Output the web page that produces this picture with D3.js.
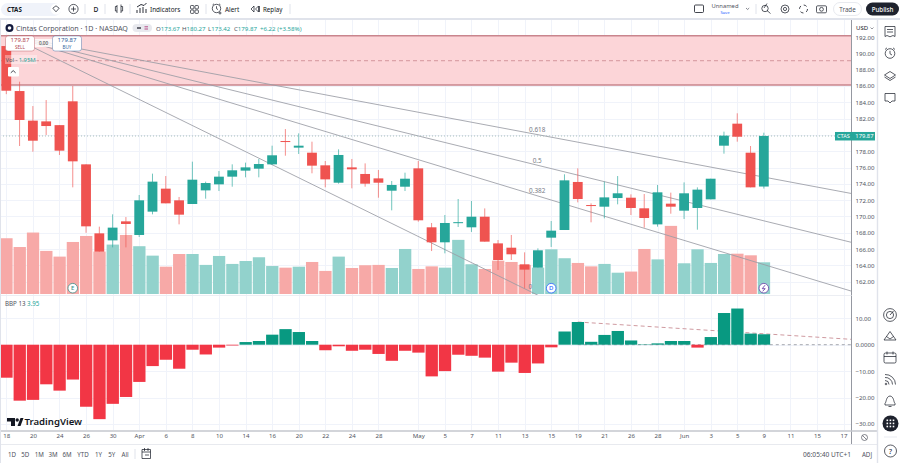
<!DOCTYPE html>
<html>
<head>
<meta charset="utf-8">
<script src="https://cdn.jsdelivr.net/npm/d3@7/dist/d3.min.js"></script>
<style>
html,body{margin:0;padding:0;background:#fff;overflow:hidden}
svg{display:block}
text{font-family:"Noto Sans",Roboto,sans-serif}
</style>
</head>
<body>
<svg id="chart" width="900" height="463"></svg>
<script>
// Daily candles for CTAS
const opens = [190.9,185.38,181.75,181.66,181.2,184.12,176.39,167.93,167.07,169.4,167.73,170.59,173.41,171.98,171.53,173.2,173.94,174.88,175.62,175.86,176.39,179.25,178.44,177.82,176.27,174.14,176.02,175.21,174.67,173.16,173.65,175.9,168.67,166.83,169.24,168.67,169.97,166.7,166.17,164.13,163.72,167.4,168.34,174.23,171.4,171.2,172.26,172.3,171.0,169.03,171.57,170.71,171.04,172.1,178.68,181.38,177.82,173.67];
const highs = [191.0,186.53,183.54,184.28,181.2,186.0,176.39,168.75,170.26,169.93,172.63,175.25,174.96,172.39,176.72,174.27,175.57,176.39,176.6,177.05,178.68,180.72,180.19,179.17,176.8,178.23,177.05,176.51,175.7,174.35,175.37,176.8,169.2,170.18,172.14,171.9,170.99,167.11,167.73,165.6,166.09,169.44,175.17,175.9,171.61,174.27,174.96,172.71,172.75,173.86,172.92,174.18,173.57,174.63,180.4,182.65,178.64,180.27];
const lows = [185.0,178.64,177.94,179.99,177.54,173.57,168.0,165.68,166.21,166.21,167.48,170.26,171.61,169.03,171.53,172.18,173.12,173.65,174.8,174.8,176.3,177.45,177.66,175.29,173.57,174.02,173.45,173.65,172.3,170.75,173.12,169.36,165.76,165.48,168.71,168.1,166.91,163.44,164.66,161.19,163.72,166.26,168.34,171.73,169.28,169.77,171.49,170.18,168.63,168.75,170.34,169.69,168.38,172.1,177.7,179.17,173.57,173.42];
const closes = [185.42,181.83,179.29,181.09,178.07,176.76,168.79,165.68,168.63,169.08,171.98,174.27,171.61,170.22,174.51,174.1,174.88,175.66,176.02,176.43,177.5,179.13,178.68,176.23,174.55,177.54,175.78,174.02,174.14,173.86,174.63,169.53,166.83,169.2,169.3,169.97,166.91,164.66,165.36,163.48,165.85,168.26,174.43,172.14,171.3,172.34,172.84,171.04,169.81,172.96,171.2,172.84,173.29,174.63,179.91,179.78,173.57,179.87];
// Volume in millions
const volumes = [3.43,2.89,3.78,2.65,2.30,3.20,3.57,2.61,3.04,3.63,2.94,2.36,1.68,2.46,2.46,1.79,2.34,1.85,2.03,2.26,1.72,1.62,1.68,1.97,1.42,2.30,1.60,1.77,1.79,1.60,2.77,1.54,1.70,1.62,3.33,1.83,1.54,2.05,1.97,1.79,1.62,2.75,2.20,1.91,1.70,1.85,1.31,1.38,2.77,2.13,4.19,1.89,2.75,1.91,2.46,2.48,2.38,1.95];
// Bull Bear Power (13)
const bbp = [-12.5,-21.2,-20.9,-15.0,-17.4,-13.2,-23.5,-28.2,-22.4,-19.8,-14.1,-8.1,-5.7,-9.1,-1.9,-3.7,-1.1,-0.3,1.0,1.4,3.8,5.9,4.8,1.4,-2.1,-0.6,-2.3,-1.9,-3.5,-6.1,-2.3,-3.0,-12.0,-10.0,-3.8,-4.2,-4.9,-10.2,-6.8,-10.7,-7.1,-1.0,5.0,8.6,1.1,3.7,5.2,1.6,0.15,0.5,1.4,1.4,-1.1,2.9,12.0,13.7,4.2,3.95];
// Time axis labels and the session slot each one sits on
const timeLabels = ["18","20","24","26","30","Apr","6","8","10","14","16","20","22","24","28","May","5","7","11","13","15","19","21","26","28","Jun","3","5","9","11","15","17"];
const timeSlots = [0,2,4,6,8,10,12,14,16,18,20,22,24,26,28,31,33,35,37,39,41,43,45,47,49,51,53,55,57,59,61,63];
const priceTicks = [192,190,188,186,184,182,180,178,176,174,172,170,168,166,164,162];
const bbpTicks = [10,0,-10,-20,-30];
const fanLevels = [0,0.382,0.5,0.618];
const rangeButtons = ["1D","5D","1M","3M","6M","YTD","1Y","5Y","All"];

const GREEN="#26a69a", RED="#ef5350", BBP_GREEN="#089981", BBP_RED="#f23645";
const INK="#131722", MUTED="#50535e", GRID="#f0f3fa";

const svg=d3.select("#chart");
const paneRight=851.5;

const x=d3.scaleLinear().domain([0,57]).range([6.3,6.3+57*13.29]);
const yPrice=d3.scaleLinear().domain([184,162]).range([102.3,281.7]);
const yVol=d3.scaleLinear().domain([0,1.95]).range([294,262.3]);
const yBbp=d3.scaleLinear().domain([0,-10]).range([344.7,371.1]);

const defs=svg.append("defs");
defs.append("clipPath").attr("id","mainClip").append("rect").attr("x",0).attr("y",20).attr("width",paneRight).attr("height",275);
defs.append("clipPath").attr("id","bbpClip").append("rect").attr("x",0).attr("y",297).attr("width",paneRight).attr("height",133);

// Grid
const grid=svg.append("g").attr("stroke",GRID).attr("stroke-width",1);
grid.selectAll("line.v").data(timeSlots).join("line").attr("class","v")
  .attr("x1",d=>Math.round(x(d))+.5).attr("x2",d=>Math.round(x(d))+.5).attr("y1",20).attr("y2",430);
grid.selectAll("line.h").data(priceTicks).join("line").attr("class","h")
  .attr("x1",0).attr("x2",paneRight).attr("y1",d=>Math.round(yPrice(d))+.5).attr("y2",d=>Math.round(yPrice(d))+.5);
grid.selectAll("line.b").data(bbpTicks).join("line").attr("class","b")
  .attr("x1",0).attr("x2",paneRight).attr("y1",d=>Math.round(yBbp(d))+.5).attr("y2",d=>Math.round(yBbp(d))+.5);

const main=svg.append("g").attr("clip-path","url(#mainClip)");

// Resistance zone
const zoneTop=192.17, zoneBottom=186.12, zoneMid=189.1;
main.append("rect").attr("x",0).attr("width",paneRight).attr("y",yPrice(zoneTop)).attr("height",yPrice(zoneBottom)-yPrice(zoneTop)).attr("fill","#fcd5d8");
main.selectAll("line.zone").data([zoneTop,zoneBottom]).join("line").attr("class","zone")
  .attr("x1",0).attr("x2",paneRight).attr("y1",d=>yPrice(d)).attr("y2",d=>yPrice(d)).attr("stroke","#c9858d").attr("stroke-width",1.6);
main.append("line").attr("x1",0).attr("x2",paneRight).attr("y1",yPrice(zoneMid)).attr("y2",yPrice(zoneMid))
  .attr("stroke","#c9858d").attr("stroke-width",.8).attr("stroke-dasharray","4 3");

// Volume
main.selectAll("rect.vol").data(volumes).join("rect").attr("class","vol")
  .attr("x",(d,i)=>x(i)-6).attr("width",12.3)
  .attr("y",d=>yVol(d)).attr("height",d=>yVol(0)-yVol(d))
  .attr("fill",(d,i)=>closes[i]>=opens[i]?"#92d2cc":"#f7a9a7");

// Fibonacci fan
const fanOrigin={i:0.2,p:192.2}, fanEnd={i:39.8,p:160.5}, fanFarIdx=80;
const fanLine=d3.line().x(d=>x(d.i)).y(d=>yPrice(d.p));
fanLevels.forEach(r=>{
  const endP=fanEnd.p+(fanOrigin.p-fanEnd.p)*r;
  const k=(endP-fanOrigin.p)/(fanEnd.i-fanOrigin.i);
  main.append("path").attr("fill","none").attr("stroke","#9a9ca4").attr("stroke-width",.85)
    .attr("d",fanLine([fanOrigin,{i:fanFarIdx,p:fanOrigin.p+k*(fanFarIdx-fanOrigin.i)}]));
  main.append("text").attr("x",x(fanEnd.i)+(r?2:-5)).attr("y",yPrice(endP)-(r?2:5)).attr("font-size",6.4)
    .attr("fill","#787b86").attr("text-anchor","middle").text(r);
});

// Last price line
main.append("line").attr("x1",0).attr("x2",paneRight).attr("y1",yPrice(closes[57])).attr("y2",yPrice(closes[57]))
  .attr("stroke","#a9bfbc").attr("stroke-width",1).attr("stroke-dasharray","1 2");

// Candles
const color=i=>closes[i]>=opens[i]?GREEN:RED;
const idx=d3.range(opens.length);
main.selectAll("line.wick").data(idx).join("line").attr("class","wick")
  .attr("x1",i=>x(i)).attr("x2",i=>x(i)).attr("y1",i=>yPrice(highs[i])).attr("y2",i=>yPrice(lows[i]))
  .attr("stroke",color).attr("stroke-opacity",.65).attr("stroke-width",1);
main.selectAll("rect.body").data(idx).join("rect").attr("class","body")
  .attr("x",i=>x(i)-4.9).attr("width",9.8)
  .attr("y",i=>yPrice(Math.max(opens[i],closes[i])))
  .attr("height",i=>Math.max(1,Math.abs(yPrice(opens[i])-yPrice(closes[i]))))
  .attr("fill",color);

// BBP pane
const bbpG=svg.append("g").attr("clip-path","url(#bbpClip)");
const trendStart={i:43,v:8.6}, trendEnd={i:63.7,v:2};
const trend=d3.line().x(d=>x(d.i)).y(d=>yBbp(d.v));
bbpG.append("path").attr("fill","none").attr("stroke","#cf9aa0").attr("stroke-width",1).attr("stroke-dasharray","4 3").attr("d",trend([trendStart,trendEnd]));
bbpG.append("path").attr("fill","none").attr("stroke","#8e9099").attr("stroke-width",.8).attr("stroke-dasharray","3 3").attr("d",trend([{i:43,v:0},{i:63.7,v:0}]));
bbpG.selectAll("rect.bbp").data(bbp).join("rect").attr("class","bbp")
  .attr("x",(d,i)=>x(i)-6).attr("width",12.3)
  .attr("y",d=>yBbp(Math.max(d,0))).attr("height",d=>Math.abs(yBbp(d)-yBbp(0)))
  .attr("fill",d=>d>=0?BBP_GREEN:BBP_RED);

// Axes
const axisFont=g=>g.call(s=>s.select(".domain").remove()).call(s=>s.selectAll(".tick line").remove())
  .selectAll("text").attr("fill",MUTED).attr("font-size",6.1).attr("font-family",'"Noto Sans",Roboto,sans-serif');
svg.append("g").attr("transform",`translate(${paneRight},0)`)
  .call(d3.axisRight(yPrice).tickValues(priceTicks).tickFormat(d3.format(".2f")).tickSize(0).tickPadding(4)).call(axisFont);
svg.append("g").attr("transform",`translate(${paneRight},0)`)
  .call(d3.axisRight(yBbp).tickValues(bbpTicks).tickFormat(d=>d===0?"0.0000":d3.format(".2f")(d).replace("\u2212","\u2212")).tickSize(0).tickPadding(4)).call(axisFont);
svg.append("g").attr("transform","translate(0,431)")
  .call(d3.axisBottom(x).tickValues(timeSlots).tickFormat((d,i)=>timeLabels[i]).tickSize(0).tickPadding(3)).call(axisFont);

// Frame lines around the panes
const frameLines=[[paneRight,20,paneRight,444,"#9598a1",1],[0,431,877.5,431,"#c4c7ce",1.4],[0,295.5,paneRight,295.5,"#eceef3",1],
 [0,444.5,877.5,444.5,"#e8eaef",1],[877.5,18,877.5,463,"#e0e3eb",1.4],[0,19,900,19,"#e0e3eb",2],[.5,20,.5,463,"#e0e3eb",1]];
svg.append("g").selectAll("line").data(frameLines).join("line")
  .attr("x1",d=>d[0]).attr("y1",d=>d[1]).attr("x2",d=>d[2]).attr("y2",d=>d[3]).attr("stroke",d=>d[4]).attr("stroke-width",d=>d[5]);

// Small text helper
function label(parent,tx,ty,str,size,fill,opts={}){
  return parent.append("text").attr("x",tx).attr("y",ty).attr("font-size",size).attr("fill",fill)
   .attr("text-anchor",opts.anchor||"start").attr("dominant-baseline","central").attr("font-weight",opts.weight||400).text(str);
}

// Last price badge
const badge=svg.append("g");
badge.append("rect").attr("x",835).attr("y",yPrice(closes[57])-4).attr("width",40).attr("height",8.5).attr("fill",GREEN);
label(badge,837,yPrice(closes[57])+.2,"CTAS",5.6,"#fff");
label(badge,873.5,yPrice(closes[57])+.2,d3.format(".2f")(closes[57]),5.8,"#fff",{anchor:"end"});

// Top toolbar
const toolbar=svg.append("g");
toolbar.append("rect").attr("x",1).attr("y",3).attr("width",60).attr("height",13).attr("rx",6.5).attr("fill","#f0f3fa");
toolbar.append("circle").attr("cx",56).attr("cy",9).attr("r",5.5).attr("fill","#fff");
toolbar.append("path").attr("d","M52.8 8.2 L56 5.8 L59.2 8.2 L56 11.8 Z").attr("fill","none").attr("stroke",INK).attr("stroke-width",.7);
label(toolbar,7,9.2,"CTAS",6.2,INK,{weight:700});
toolbar.append("circle").attr("cx",73.5).attr("cy",9).attr("r",4.6).attr("fill","none").attr("stroke",INK).attr("stroke-width",.7);
toolbar.append("path").attr("d","M73.5 6.5V11.5M71 9H76").attr("stroke",INK).attr("stroke-width",.7);
label(toolbar,96,9.2,"D",6.6,INK,{anchor:"middle",weight:500});
toolbar.selectAll("line.sep").data([85,105,130,206,290,756]).join("line").attr("class","sep")
 .attr("x1",d=>d).attr("x2",d=>d).attr("y1",4).attr("y2",14).attr("stroke","#e0e3eb");
toolbar.append("path").attr("d","M117 5V13M117 6.5h-1.6V11H117M121 4.5V13M121 6.5h1.6V11H121").attr("fill","none").attr("stroke",INK).attr("stroke-width",.7);
toolbar.append("path").attr("d","M137 13V10M140 13V8M143 13V7M146 13V9M137 7L141 4.5L144 5.5L146.5 3").attr("fill","none").attr("stroke",INK).attr("stroke-width",.9);
label(toolbar,150,9.2,"Indicators",6.4,INK);
[[190.5,5.5],[195,5.5],[190.5,10],[195,10]].forEach(p=>toolbar.append("rect").attr("x",p[0]).attr("y",p[1]).attr("width",3.4).attr("height",3.4).attr("rx",.8).attr("fill","none").attr("stroke",INK).attr("stroke-width",.7));
toolbar.append("circle").attr("cx",216.5).attr("cy",8.5).attr("r",4.2).attr("fill","none").attr("stroke",INK).attr("stroke-width",.7);
toolbar.append("path").attr("d","M216.5 6.2V8.6L218 9.6M220 11.5V14.5M218.5 13H221.5M212.5 5L214 3.8M220.5 5L219 3.8").attr("fill","none").attr("stroke",INK).attr("stroke-width",.7);
label(toolbar,225,9.2,"Alert",6.4,INK);
toolbar.append("path").attr("d","M254 6L251 9L254 12ZM258.5 6L255.5 9L258.5 12ZM259.5 6V12").attr("fill","none").attr("stroke",INK).attr("stroke-width",.7);
label(toolbar,263,9.2,"Replay",6.2,INK);

toolbar.append("rect").attr("x",694.5).attr("y",5).attr("width",9).attr("height",7.5).attr("rx",1).attr("fill","none").attr("stroke",INK).attr("stroke-width",.8);
label(toolbar,725,5.8,"Unnamed",5.8,MUTED,{anchor:"middle"});
label(toolbar,725,12.4,"Save",4.2,"#2962ff",{anchor:"middle"});
toolbar.append("path").attr("d","M746 8L747.6 9.5L749.2 8").attr("fill","none").attr("stroke",MUTED).attr("stroke-width",.7);
toolbar.append("circle").attr("cx",765).attr("cy",8.5).attr("r",3.2).attr("fill","none").attr("stroke",INK).attr("stroke-width",.7);
toolbar.append("path").attr("d","M767 10.5L770.5 13.5M767 3.5L764 8").attr("fill","none").attr("stroke",INK).attr("stroke-width",.7);
toolbar.append("circle").attr("cx",785).attr("cy",9).attr("r",4).attr("fill","none").attr("stroke",INK).attr("stroke-width",.7);
toolbar.append("circle").attr("cx",785).attr("cy",9).attr("r",1.6).attr("fill","none").attr("stroke",INK).attr("stroke-width",.7);
toolbar.append("circle").attr("cx",803.5).attr("cy",9).attr("r",4).attr("fill","none").attr("stroke",INK).attr("stroke-width",.8).attr("stroke-dasharray","3.2 3");
toolbar.append("rect").attr("x",816.5).attr("y",5.8).attr("width",10).attr("height",7).attr("rx",1.2).attr("fill","none").attr("stroke",INK).attr("stroke-width",.7);
toolbar.append("circle").attr("cx",821.5).attr("cy",9.3).attr("r",1.9).attr("fill","none").attr("stroke",INK).attr("stroke-width",.7);
toolbar.append("rect").attr("x",833.5).attr("y",2.5).attr("width",28).attr("height",13).attr("rx",6.5).attr("fill","#fff").attr("stroke","#e8eaef");
label(toolbar,847.5,9.2,"Trade",6.2,MUTED,{anchor:"middle"});
toolbar.append("rect").attr("x",866).attr("y",2.5).attr("width",33).attr("height",13).attr("rx",6.5).attr("fill","#1e222d");
label(toolbar,882.5,9.2,"Publish",6.2,"#fff",{anchor:"middle",weight:500});

// Symbol legend
const leg=svg.append("g");
leg.append("circle").attr("cx",9.5).attr("cy",28).attr("r",4).attr("fill","#131a3d");
leg.append("circle").attr("cx",9.5).attr("cy",28).attr("r",1.8).attr("fill","#fff");
label(leg,16,28.2,"Cintas Corporation \u00b7 1D \u00b7 NASDAQ",7.1,MUTED);
leg.append("rect").attr("x",132.5).attr("y",24).attr("width",19.5).attr("height",8).attr("rx",4).attr("fill","#e8e9ee");
leg.append("path").attr("d","M137 28H141").attr("stroke",INK).attr("stroke-width",1.2);
leg.append("path").attr("d","M144.5 26.8H148M144.5 29H148").attr("stroke","#b03a7c").attr("stroke-width",.9);
const ohlc=[["O",opens[57]],["H",highs[57]],["L",lows[57]],["C",closes[57]]];
const ohlcX=[156,182,208,234];
ohlc.forEach((d,i)=>{
  const t=label(leg,ohlcX[i],28.2,"",6.1,GREEN);
  t.append("tspan").attr("fill",MUTED).text(d[0]);
  t.append("tspan").text(d3.format(".2f")(d[1]));
});
label(leg,260,28.2,"+6.22 (+3.58%)",6.1,GREEN);

// Order buttons
function orderBox(bx,word,col){
  svg.append("rect").attr("x",bx).attr("y",36).attr("width",29).attr("height",15).attr("rx",2.5).attr("fill","#fff").attr("stroke",col).attr("stroke-opacity",.5).attr("stroke-width",.8);
  label(svg,bx+14.5,40.3,d3.format(".2f")(closes[57]),6,col,{anchor:"middle"});
  label(svg,bx+14.5,47,word,4.6,col,{anchor:"middle"});
}
svg.append("rect").attr("x",34).attr("y",39).attr("width",19).attr("height",8).attr("fill","#fff").attr("fill-opacity",.8);
label(svg,43.5,43,"0.00",4.6,INK,{anchor:"middle"});
orderBox(5.5,"SELL","#b2474f");
orderBox(52.5,"BUY","#2f5f9e");

// Volume legend and collapse button
svg.append("rect").attr("x",5).attr("y",55).attr("width",32).attr("height",9).attr("fill","#fff").attr("fill-opacity",.35);
const vl=label(svg,5.5,59.6,"",5.9,MUTED);
vl.append("tspan").text("Vol \u00b7 ");
vl.append("tspan").attr("fill",GREEN).text(d3.format(".2f")(volumes[57])+"M");
svg.append("rect").attr("x",8).attr("y",67).attr("width",11).attr("height",9.5).attr("rx",1).attr("fill","#fff");
svg.append("path").attr("d","M10.8 72.8L13.2 70.6L15.6 72.8").attr("fill","none").attr("stroke",INK).attr("stroke-width",.8);

// Session markers on the volume pane
function marker(i,ch,col){
  const cx=x(i), cy=288.2;
  svg.append("circle").attr("cx",cx).attr("cy",cy).attr("r",4.8).attr("fill","#fff").attr("stroke",col).attr("stroke-width",.8);
  if(ch) label(svg,cx,cy+.2,ch,6,col,{anchor:"middle",weight:500});
  else svg.append("path").attr("d",`M${cx+1.2} ${cy-3}L${cx-1.6} ${cy+.5}H${cx+1.4}L${cx-1.2} ${cy+3}`).attr("fill","none").attr("stroke",col).attr("stroke-width",.9);
}
marker(5,"E","#3d8f89");
marker(41,"D","#2962ff");
marker(57,null,"#6a3fa8");

// BBP legend
const bl=label(svg,5,302.5,"",6.2,MUTED);
bl.append("tspan").text("BBP 13  ");
bl.append("tspan").attr("fill",GREEN).text(d3.format(".2f")(bbp[57]));

// Brand mark
const brand=svg.append("g");
brand.append("path").attr("d","M7 418H15V426H11V421.5H7ZM17.5 426L20.5 418H23.5L20.5 426Z").attr("fill",INK);
brand.append("circle").attr("cx",17.2).attr("cy",420).attr("r",1.7).attr("fill",INK);
label(brand,24.5,421.5,"TradingView",9.6,INK,{weight:600});

// Range selector
const rangeX=[12,25.3,39.3,53,67,83,98.5,111.7,125];
svg.append("g").selectAll("text").data(rangeButtons).join("text")
 .attr("x",(d,i)=>rangeX[i]).attr("y",454.5).attr("text-anchor","middle").attr("dominant-baseline","central")
 .attr("font-size",6.2).attr("fill",MUTED).text(d=>d);
svg.append("line").attr("x1",135).attr("x2",135).attr("y1",449).attr("y2",459).attr("stroke","#e0e3eb");
svg.append("path").attr("d","M142 449.5H150.5V458.5H142ZM142 452H150.5M144.5 448V451M148 448V451M145 455H149").attr("fill","none").attr("stroke",INK).attr("stroke-width",.7);
label(svg,851,454.5,"06:05:40 UTC+1",6.6,MUTED,{anchor:"end"});
label(svg,867,454.5,"ADJ",6.2,MUTED,{anchor:"middle"});
svg.append("circle").attr("cx",864.5).attr("cy",437.5).attr("r",3).attr("fill","none").attr("stroke",MUTED).attr("stroke-width",.7);
svg.append("path").attr("d","M862.4 435.4L866.6 439.6").attr("stroke",MUTED).attr("stroke-width",.7);

// Currency selector
svg.append("rect").attr("x",853).attr("y",22).attr("width",23).attr("height",11.5).attr("rx",2).attr("fill","#fff");
label(svg,856,28,"USD",6,INK);
svg.append("path").attr("d","M870.5 27.5L872 29L873.5 27.5").attr("fill","none").attr("stroke",MUTED).attr("stroke-width",.6);

// Right side toolbar
const rt=svg.append("g").attr("fill","none").attr("stroke",INK).attr("stroke-width",.7);
rt.append("path").attr("d","M885 26.5H895V36.5L893 35.5L890 36.8L887 35.5L885 36.5ZM887 29.5H893M887 32H893");
rt.append("circle").attr("cx",890).attr("cy",53.5).attr("r",4.8);
rt.append("path").attr("d","M890 50.8V53.8L892 55M885 49.5L887 47.8M895 49.5L893 47.8");
rt.append("path").attr("d","M890 71.5L895.5 75L890 78.5L884.5 75ZM884.5 77L890 80.5L895.5 77");
rt.append("path").attr("d","M885 93.5H895V101H892L890 103L888 101H885Z");
rt.append("circle").attr("cx",890).attr("cy",315).attr("r",6.4);
rt.append("circle").attr("cx",890).attr("cy",315).attr("r",3.6);
rt.append("path").attr("d","M890 315L893.5 311");
rt.append("path").attr("d","M890 331.5L896 340H884ZM886.5 336.5L890 339L893.5 336.5");
rt.append("rect").attr("x",884).attr("y",353).attr("width",12).attr("height",10).attr("rx",1.5);
rt.append("path").attr("d","M884 356.5H896M887 351.5V354.5M893 351.5V354.5");
rt.append("path").attr("d","M885 374.5A10 10 0 0 1 895.5 384.5M885 377.5A7 7 0 0 1 892.5 384.5M885 380.5A4 4 0 0 1 889 384.5");
rt.append("circle").attr("cx",886).attr("cy",384).attr("r",.8);
rt.append("path").attr("d","M885 405V403.5C886.5 402 886 396.5 890 396C894 396.5 893.5 402 895 403.5V405ZM888.5 406.5H891.5");
svg.append("circle").attr("cx",890.5).attr("cy",423.5).attr("r",8).attr("fill","#1e222d");
svg.append("g").attr("fill","#fff").selectAll("rect").data(d3.cross([-4.4,-1.3,1.8],[-4.4,-1.3,1.8])).join("rect")
 .attr("x",d=>890.5+d[0]+.4).attr("y",d=>423.5+d[1]+.4).attr("width",1.6).attr("height",1.6);
rt.append("line").attr("x1",884).attr("x2",897).attr("y1",437).attr("y2",437).attr("stroke","#e0e3eb");
rt.append("circle").attr("cx",890.5).attr("cy",451).attr("r",6);
label(svg,890.5,451.2,"?",7.5,INK,{anchor:"middle"});
</script>
</body>
</html>
